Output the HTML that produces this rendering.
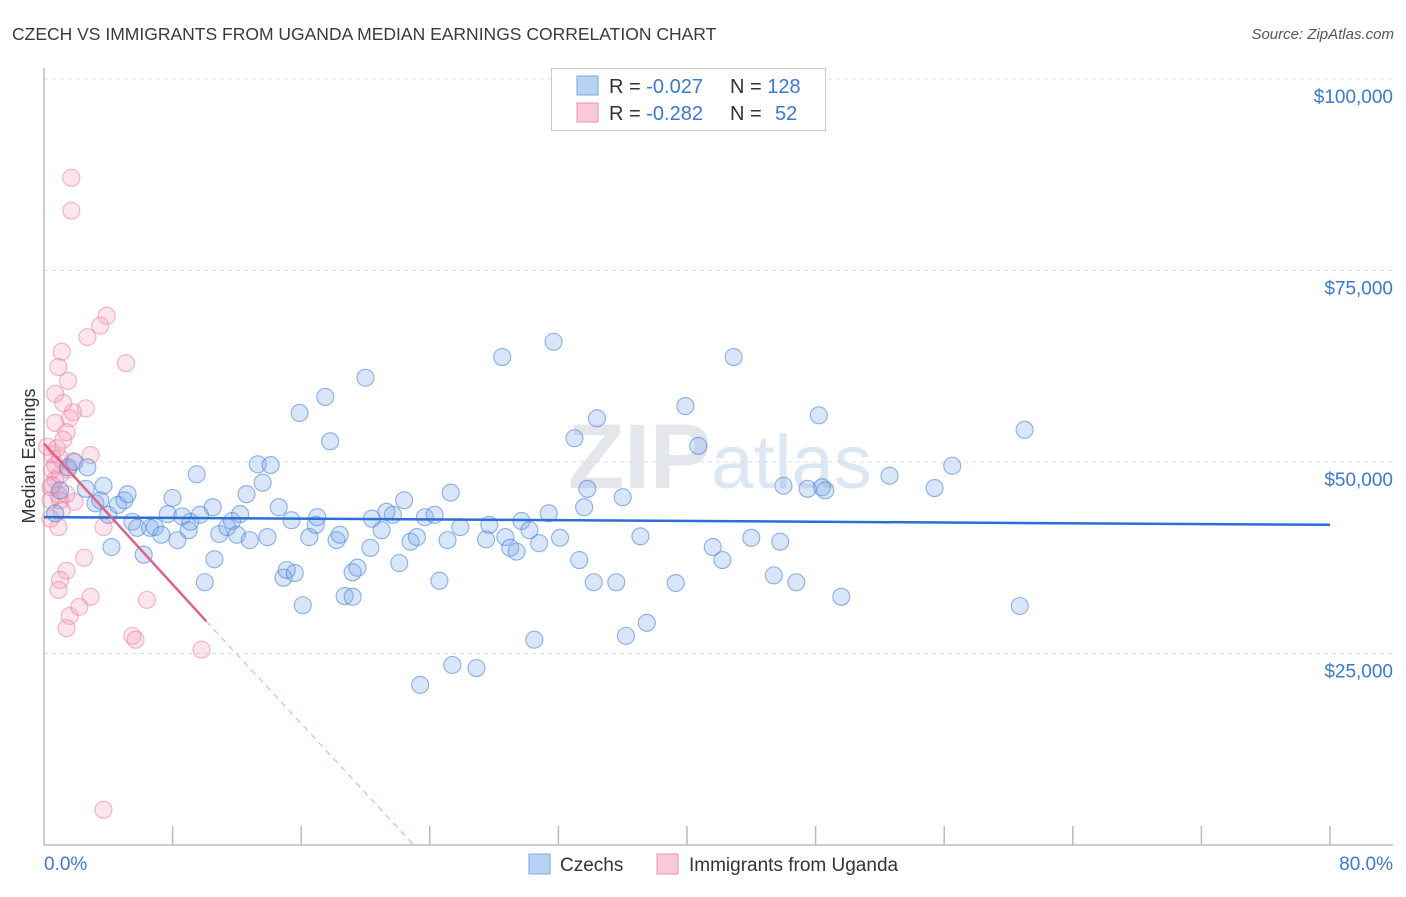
<!DOCTYPE html>
<html><head><meta charset="utf-8"><style>
body{margin:0;background:#fff;font-family:"Liberation Sans",sans-serif;}
svg text{font-family:"Liberation Sans",sans-serif;}
</style></head><body>
<svg id="chart" width="1406" height="892" xmlns="http://www.w3.org/2000/svg">
<text x="12" y="40" font-size="17.5" fill="#3a3a3a">CZECH VS IMMIGRANTS FROM UGANDA MEDIAN EARNINGS CORRELATION CHART</text>
<text x="1394" y="39" font-size="15" fill="#555" font-style="italic" text-anchor="end">Source: ZipAtlas.com</text>
<text x="720" y="488" font-size="92" fill="#e8ebef" text-anchor="middle" font-family="Liberation Serif"><tspan font-weight="bold" fill="#e3e6ea">ZIP</tspan><tspan font-family="Liberation Sans" fill="#dde7f4" font-size="76">atlas</tspan></text>
<g id="grid"></g><g id="axes"></g><g id="pinkpts"></g><g id="bluepts"></g><g id="trends"></g>
<text x="35" y="456" font-size="18" fill="#333" text-anchor="middle" transform="rotate(-90 35 456)">Median Earnings</text>
<text x="44" y="870" font-size="19" fill="#3b78d4">0.0%</text>
<text x="1393" y="870" font-size="19" fill="#3b78d4" text-anchor="end">80.0%</text>
<g>
<rect x="551.5" y="68.5" width="274" height="62" fill="#fff" stroke="#ccc"/>
<rect x="577" y="76" width="21" height="19" fill="#b8d2f4" stroke="#7aa7e6"/>
<rect x="577" y="103" width="21" height="19" fill="#f9c9d7" stroke="#f08fb0"/>
<text x="609" y="93" font-size="20" fill="#333">R = <tspan fill="#3b78d4">-0.027</tspan>   <tspan x="730">N = </tspan><tspan fill="#3b78d4">128</tspan></text>
<text x="609" y="120" font-size="20" fill="#333">R = <tspan fill="#3b78d4"> -0.282</tspan>   <tspan x="730">N = </tspan><tspan fill="#3b78d4" x="775">52</tspan></text>
</g>
<g>
<rect x="529" y="854" width="21" height="20" fill="#b8d2f4" stroke="#7aa7e6"/>
<text x="560" y="871" font-size="19" fill="#333">Czechs</text>
<rect x="657" y="854" width="21" height="20" fill="#f9c9d7" stroke="#f08fb0"/>
<text x="689" y="871" font-size="19" fill="#333">Immigrants from Uganda</text>
</g>
</svg>
<script>
const yTicks=[25000,50000,75000,100000];
const yTickLabels=["$25,000","$50,000","$75,000","$100,000"];
const blueX=[0.7,1.0,1.5,1.9,2.7,2.6,3.2,3.5,3.7,4.0,4.2,4.6,5.0,5.2,5.5,5.8,6.2,6.6,6.9,7.3,7.7,8.0,8.3,8.6,9.0,9.1,9.5,9.7,10.0,10.5,10.6,10.9,11.4,11.7,12.0,12.2,12.6,12.8,13.3,13.6,13.9,14.1,14.6,14.9,15.1,15.4,15.6,15.9,16.1,16.5,16.9,17.0,17.5,17.8,18.2,18.4,19.2,19.5,18.7,19.2,20.0,20.4,20.3,21.0,21.3,21.7,22.1,22.4,22.8,23.2,23.4,23.7,24.3,24.6,25.1,25.3,25.4,25.9,26.9,27.5,27.7,28.5,28.7,29.0,29.4,29.7,30.2,30.5,30.8,31.4,31.7,32.1,33.0,33.3,33.8,33.6,34.2,34.4,35.6,36.0,36.2,37.1,37.5,39.3,39.9,40.7,41.6,42.2,42.9,44.0,45.4,45.8,46.0,46.8,47.5,48.2,48.4,48.6,49.6,52.6,55.4,56.5,60.7,61.0];
const blueY=[43.3,46.3,49.3,50.0,49.3,46.5,44.6,45.0,46.9,43.1,38.9,44.4,45.0,45.8,42.2,41.4,37.9,41.4,41.5,40.5,43.2,45.3,39.8,42.9,41.1,42.2,48.4,43.1,34.3,44.1,37.3,40.6,41.5,42.3,40.5,43.2,45.8,39.8,49.7,47.3,40.2,49.6,44.1,34.9,35.9,42.4,35.5,56.4,31.3,40.2,41.8,42.8,58.5,52.7,39.8,40.5,35.6,36.2,32.5,32.4,61.0,42.6,38.8,41.1,43.5,43.1,36.8,45.0,39.6,40.2,20.9,42.8,43.1,34.5,39.8,46.0,23.5,41.5,23.1,39.9,41.8,63.7,40.2,38.8,38.3,42.3,41.1,26.8,39.4,43.3,65.7,40.1,53.1,37.2,46.5,44.1,34.3,55.7,34.3,45.4,27.3,40.3,29.0,34.2,57.3,52.1,38.9,37.2,63.7,40.1,35.2,39.6,46.9,34.3,46.5,56.1,46.7,46.3,32.4,48.2,46.6,49.5,31.2,54.2];
const pinkX=[1.7,1.7,3.9,3.5,2.7,5.1,1.1,0.9,1.5,0.7,1.2,2.6,1.8,1.6,0.7,1.4,2.9,0.5,1.0,1.8,1.5,0.7,0.4,0.9,1.4,1.0,1.9,0.4,0.9,3.7,2.5,1.4,1.0,0.9,2.9,6.4,1.6,2.2,1.4,5.5,5.7,9.8,3.7,0.5,1.0,0.7,0.2,0.4,1.1,0.8,1.2,0.5];
const pinkY=[87.1,82.8,69.1,67.8,66.3,62.9,64.4,62.4,60.6,58.9,57.7,57.0,56.5,55.7,55.1,53.9,50.9,51.0,50.5,50.1,49.0,47.7,46.7,45.7,45.8,45.0,44.8,42.6,41.5,41.5,37.5,35.8,34.6,33.3,32.4,32.0,29.9,31.1,28.3,27.3,26.8,25.5,4.6,49.0,48.3,49.6,52.0,45.0,43.7,51.8,52.9,47.0];
const blueTrend=[[0,42.8],[80,41.8]];
const pinkTrend=[[0,52.4],[10.1,29.2]];
const pinkTrendDashEnd=[23.0,0];

const NS="http://www.w3.org/2000/svg";
const X0=44,X1=1330,Y0=845,PX=191.5/25;
function sx(p){return X0+p*(X1-X0)/80;}
function sy(k){return Y0-k*PX;}
function mk(t,a,parent){const e=document.createElementNS(NS,t);for(const k in a)e.setAttribute(k,a[k]);document.getElementById(parent).appendChild(e);return e;}

yTicks.forEach((v,i)=>{
  const y=sy(v/1000);
  const l=mk('line',{x1:44,x2:1393,y1:y,y2:y,stroke:'#ddd','stroke-dasharray':'4,4'},'grid');
  
  
  const t=mk('text',{x:1393,y:y+24,'font-size':19,fill:'#3b78d4','text-anchor':'end'},'grid');
  t.textContent=yTickLabels[i];
  
  
});
let a=mk('line',{x1:44,x2:44,y1:68,y2:Y0,stroke:'#bbb','stroke-width':1.5},'axes');


a=mk('line',{x1:44,x2:1393,y1:Y0,y2:Y0,stroke:'#bbb','stroke-width':1.5},'axes');


for(let i=1;i<=10;i++){
  const x=sx(i*8);
  const t=mk('line',{x1:x,x2:x,y1:826,y2:Y0,stroke:'#bbb','stroke-width':1.5},'axes');
  
  
}
pinkX.forEach((p,i)=>{
  const c=mk('circle',{cx:sx(p),cy:sy(pinkY[i]),r:8.5,fill:'rgba(244,150,180,0.25)',stroke:'rgba(236,130,165,0.6)','stroke-width':1.1},'pinkpts');
  
  
});
blueX.forEach((p,i)=>{
  const c=mk('circle',{cx:sx(p),cy:sy(blueY[i]),r:8.5,fill:'rgba(120,165,232,0.28)',stroke:'rgba(70,130,220,0.6)','stroke-width':1.1},'bluepts');
  
  
});
let L=mk('line',{x1:sx(blueTrend[0][0]),y1:sy(blueTrend[0][1]),x2:sx(blueTrend[1][0]),y2:sy(blueTrend[1][1]),stroke:'#2a6fd6','stroke-width':2.5},'trends');


L=mk('line',{x1:sx(pinkTrend[1][0]),y1:sy(pinkTrend[1][1]),x2:sx(pinkTrendDashEnd[0]),y2:sy(pinkTrendDashEnd[1]),stroke:'#f0a0b8','stroke-width':1,'stroke-dasharray':'6,5'},'trends');


L=mk('line',{x1:sx(pinkTrend[0][0]),y1:sy(pinkTrend[0][1]),x2:sx(pinkTrend[1][0]),y2:sy(pinkTrend[1][1]),stroke:'#e0608a','stroke-width':2.5},'trends');


</script>
</body></html>
